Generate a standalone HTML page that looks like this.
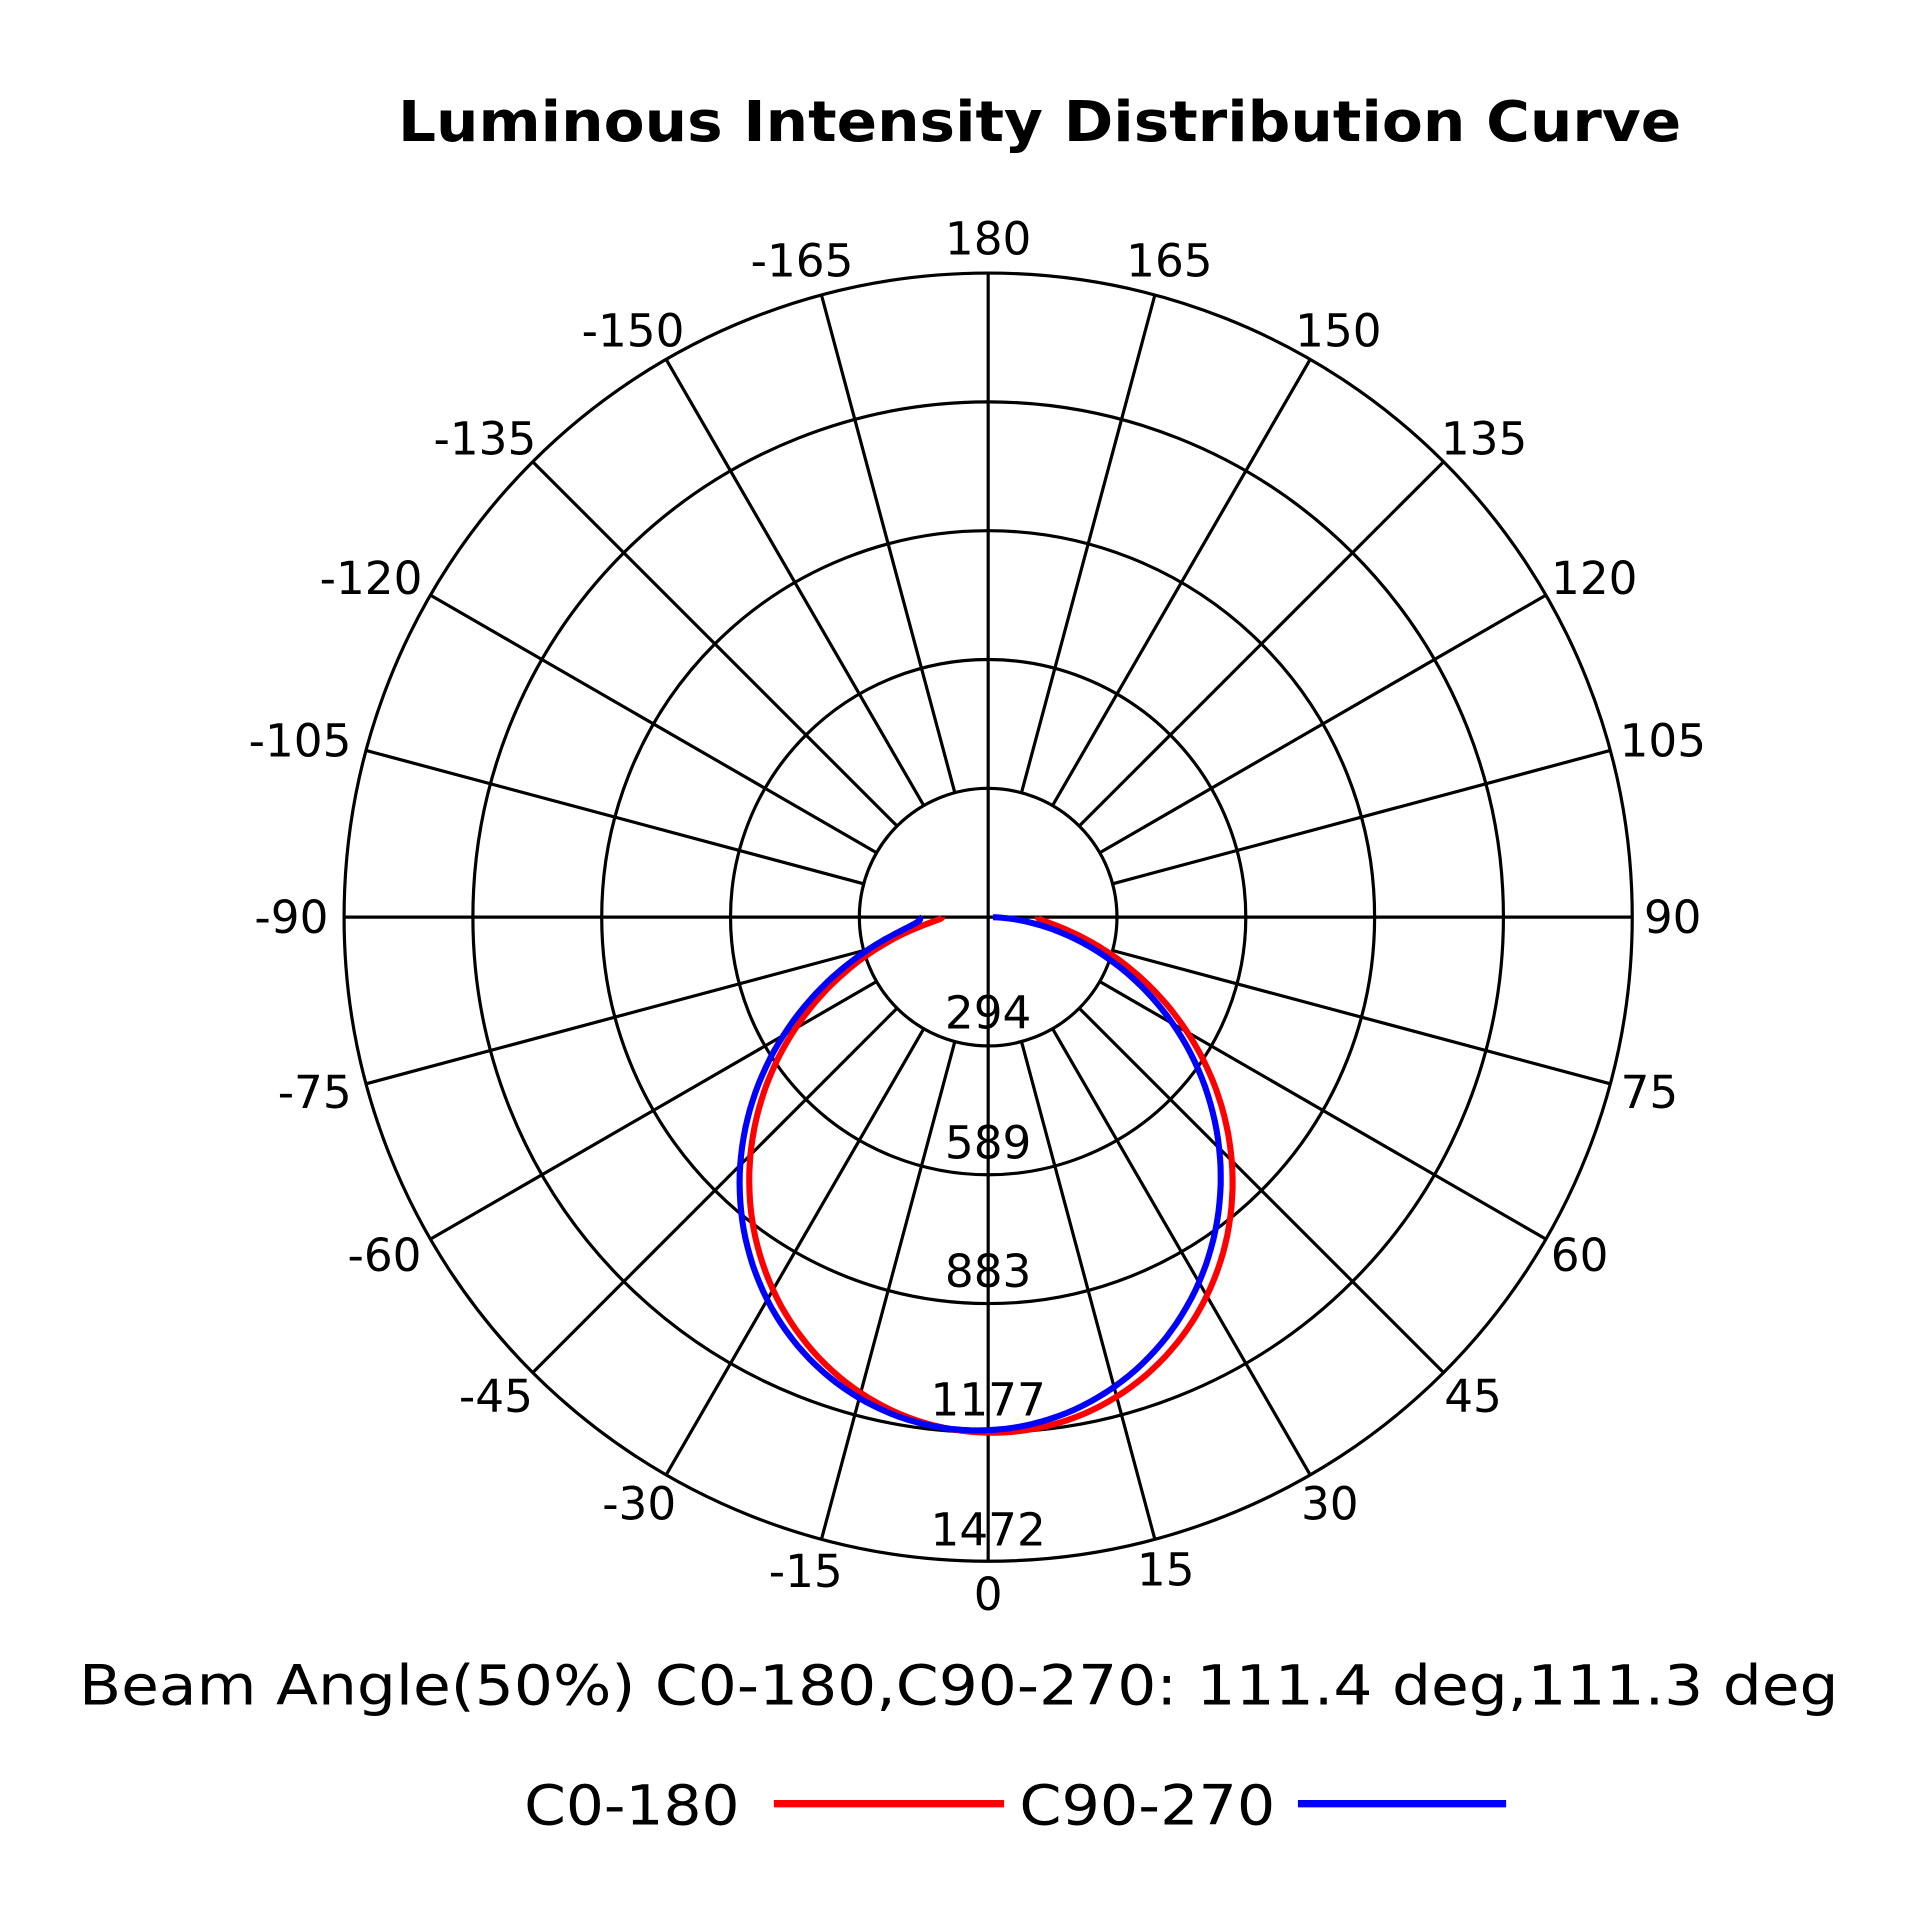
<!DOCTYPE html>
<html><head><meta charset="utf-8"><style>
html,body{margin:0;padding:0;background:#fff;}
svg{display:block;}
text{font-family:"DejaVu Sans","Liberation Sans",sans-serif;fill:#000;}
</style></head><body>
<svg id="s" width="1920" height="1920" viewBox="0 0 1568 1568" xmlns="http://www.w3.org/2000/svg">
<rect width="1568" height="1568" fill="#fff"/>
<text x="849" y="115" font-size="46" font-weight="bold" text-anchor="middle" textLength="1048" lengthAdjust="spacingAndGlyphs">Luminous Intensity Distribution Curve</text>
<g id="grid" stroke="#000" stroke-width="2.6" fill="none"></g>
<g id="labels" font-size="37"></g>
<g id="curves" fill="none" stroke-width="5" stroke-linejoin="round"></g>
<text x="783" y="1392" font-size="45" text-anchor="middle" textLength="1437" lengthAdjust="spacingAndGlyphs">Beam Angle(50%) C0-180,C90-270: 111.4 deg,111.3 deg</text>
<text x="516" y="1490" font-size="45" text-anchor="middle" textLength="176" lengthAdjust="spacingAndGlyphs">C0-180</text>
<line x1="632" y1="1473" x2="820" y2="1473" stroke="#ff0000" stroke-width="6"/>
<text x="937" y="1490" font-size="45" text-anchor="middle" textLength="209" lengthAdjust="spacingAndGlyphs">C90-270</text>
<line x1="1060" y1="1473" x2="1230" y2="1473" stroke="#0000ff" stroke-width="6"/>
</svg>
<script>
var NS="http://www.w3.org/2000/svg",cx=807,cy=749,R=526;
function el(t,a,p){var e=document.createElementNS(NS,t);for(var k in a)e.setAttribute(k,a[k]);p.appendChild(e);return e;}
var g=document.getElementById('grid'),L=document.getElementById('labels'),C=document.getElementById('curves');
[105.2,210.4,315.6,420.8,526].forEach(function(r){el('circle',{cx:cx,cy:cy,r:r},g);});
for(var a=-165;a<=180;a+=15){var t=a*Math.PI/180,s=Math.sin(t),c=Math.cos(t);
 var r0=(a%90==0)?0:105.2;
 el('line',{x1:cx+r0*s,y1:cy+r0*c,x2:cx+R*s,y2:cy+R*c},g);}
var pos={"180":[807,195],"165":[955,213],"150":[1093,270],"135":[1212,358],"120":[1302,472],"105":[1358,605],"90":[1366,749],"75":[1347,892],"60":[1290,1025],"45":[1203,1140],"30":[1086,1228],"15":[952,1282],"0":[807,1302],"-15":[658,1283],"-30":[522,1228],"-45":[405,1140],"-60":[314,1025],"-75":[257,892],"-90":[238,749],"-105":[245,605],"-120":[303,472],"-135":[396,358],"-150":[517,270],"-165":[655,213]};
for(var k in pos){var e=el('text',{x:pos[k][0],y:pos[k][1]+13,'text-anchor':'middle'},L);e.textContent=k;}
[['294',827],['589',933],['883',1038],['1177',1143],['1472',1249]].forEach(function(v){var e=el('text',{x:cx,y:v[1]+13,'text-anchor':'middle'},L);e.textContent=v[0];});
function curve(A0,k,eL,eR,col){var d='';
 for(var a=-90;a<=90;a+=1){var t=a*Math.PI/180,c=Math.max(Math.cos(t),0);
  var A=A0*(1+k*a/45);var e=(a<0?eL:eR)*Math.pow(Math.abs(a)/90,8);
  var r=A*Math.pow(c,1.2)+e;
  var x=cx+r*Math.sin(t),y=cy+r*Math.cos(t);d+=(d?'L':'M')+x.toFixed(1)+' '+y.toFixed(1);}
 el('path',{d:d,stroke:col},C);}
curve(421,0.012,38,41,'#ff0000');
curve(419,-0.035,57,4,'#0000ff');
</script>
</body></html>
